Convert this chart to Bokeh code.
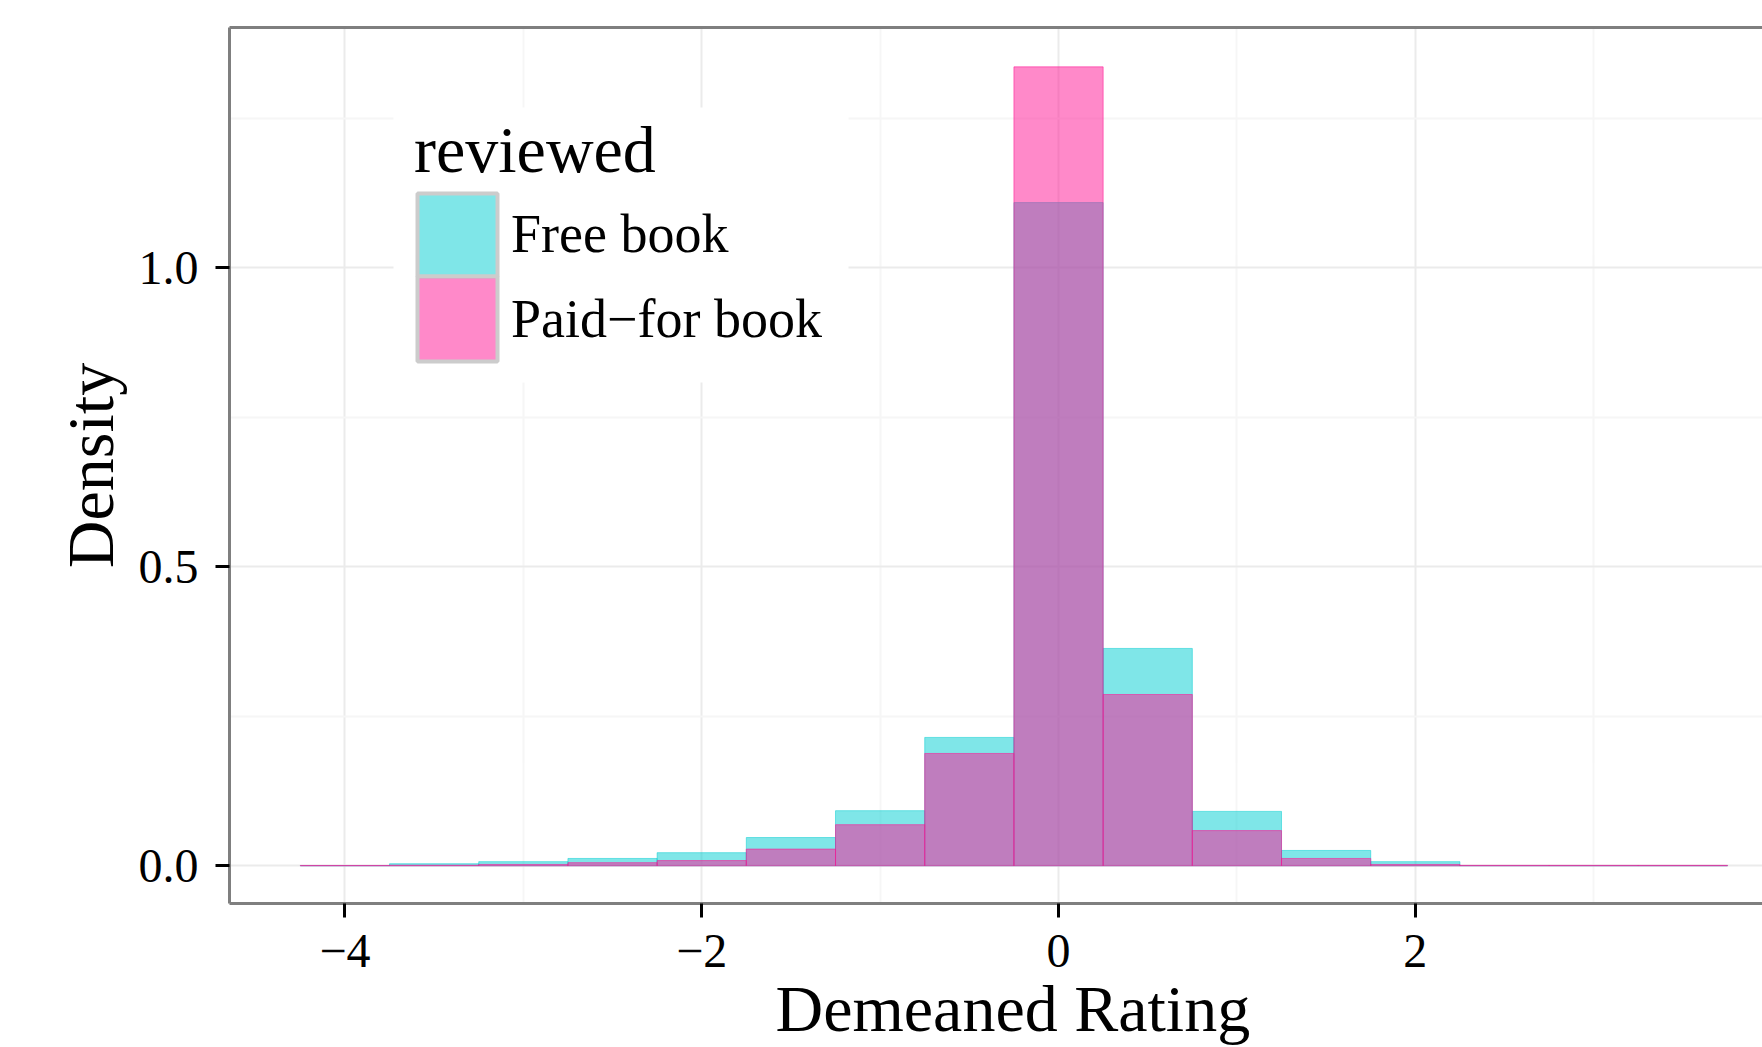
from bokeh.plotting import figure
from bokeh.models import (FixedTicker, LinearAxis, Legend, LegendItem, Title,
                          Range1d, CustomJSTickFormatter, BoxAnnotation)
from bokeh.embed import file_html
from bokeh.resources import INLINE

# ---- data ----
bin_centers = [-4.0, -3.5, -3.0, -2.5, -2.0, -1.5, -1.0, -0.5,
               0.0, 0.5, 1.0, 1.5, 2.0, 2.5, 3.0, 3.5]
free_density = [0.0004, 0.0035, 0.007, 0.0123, 0.022, 0.0473, 0.0922, 0.2147,
                1.109, 0.3635, 0.091, 0.0257, 0.007, 0.0004, 0.0004, 0.0004]
paid_density = [0.0006, 0.001, 0.0023, 0.0053, 0.0088, 0.028, 0.0688, 0.1879,
                1.336, 0.2865, 0.0589, 0.0123, 0.0023, 0.0008, 0.0008, 0.0008]
series_labels = ["Free book", "Paid\u2212for book"]
legend_title = "reviewed"
x_title = "Demeaned Rating"
y_title = "Density"
x_ticks = [-4, -2, 0, 2, 4]
x_minor = [-3, -1, 1, 3]
y_ticks = [0.0, 0.5, 1.0]
y_minor = [0.25, 0.75, 1.25]

FREE = "#00CED1"
PAID = "#FF1493"
FONT = "Liberation Serif"
BIN_W = 0.5

# ---- layout (pixels) ----
W, H = 1762, 1047
F_LEFT, F_TOP, F_BOTTOM_BORDER = 229, 27, 144
F_W = W - F_LEFT
F_H = H - F_TOP - F_BOTTOM_BORDER
X_START, X_END = -4.647, 3.946
Y_START, Y_END = -0.063, 1.4018


def px_x(px):
    return X_START + (px - F_LEFT) * (X_END - X_START) / F_W


def px_y(py):
    return Y_END - (py - F_TOP) * (Y_END - Y_START) / F_H


p = figure(width=W, height=H, output_backend="svg", toolbar_location=None,
           x_range=Range1d(X_START, X_END), y_range=Range1d(Y_START, Y_END),
           min_border_left=F_LEFT, min_border_right=0, min_border_top=F_TOP,
           min_border_bottom=F_BOTTOM_BORDER, background_fill_color="white",
           border_fill_color="white", outline_line_color=None)

p.vbar(x=bin_centers, top=free_density, width=BIN_W, bottom=0,
       fill_color=FREE, fill_alpha=0.5, line_color=FREE, line_alpha=0.5, line_width=1)
p.vbar(x=bin_centers, top=paid_density, width=BIN_W, bottom=0,
       fill_color=PAID, fill_alpha=0.5, line_color=PAID, line_alpha=0.55, line_width=1)

# legend-only (invisible) renderers; the keys themselves are drawn as boxes below
k1 = p.vbar(x=bin_centers[8:9], top=[0.0], bottom=[0.0], width=0,
            fill_alpha=0, line_alpha=0)
k2 = p.vbar(x=bin_centers[8:9], top=[0.0], bottom=[0.0], width=0,
            fill_alpha=0, line_alpha=0)

# axes
xax = p.xaxis[0]
xax.ticker = FixedTicker(ticks=x_ticks, minor_ticks=x_minor)
xax.formatter = CustomJSTickFormatter(code="""
    return tick < 0 ? "\\u2212" + Math.abs(tick) : String(tick);
""")
yax = p.yaxis[0]
yax.ticker = FixedTicker(ticks=y_ticks, minor_ticks=y_minor)
yax.formatter = CustomJSTickFormatter(code="return tick.toFixed(1);")
yax.axis_label = y_title

for ax in (xax, yax):
    ax.axis_line_color = "#7F7F7F"
    ax.axis_line_width = 3
    ax.major_tick_line_color = "black"
    ax.major_tick_line_width = 3
    ax.major_tick_out = 14
    ax.major_tick_in = 0
    ax.minor_tick_line_color = None
    ax.major_label_text_font = FONT
    ax.major_label_text_font_size = "48px"
    ax.major_label_text_color = "black"
    ax.axis_label_text_font = FONT
    ax.axis_label_text_font_size = "66px"
    ax.axis_label_text_font_style = "normal"
    ax.axis_label_text_color = "black"
xax.major_label_standoff = 17
yax.major_label_standoff = 17
yax.axis_label_standoff = 9

top_ax = LinearAxis(ticker=FixedTicker(ticks=[]), axis_line_color="#7F7F7F",
                    axis_line_width=3, major_tick_line_color=None,
                    minor_tick_line_color=None, major_label_text_font_size="0px")
p.add_layout(top_ax, "above")

# x-axis title, placed as in the (cropped) reference
p.add_layout(Title(text=x_title, align="left", offset=546, standoff=1,
                   text_font=FONT, text_font_size="66px",
                   text_font_style="normal", text_color="black"), "below")

# grids
for g in (p.xgrid[0], p.ygrid[0]):
    g.grid_line_color = "#EBEBEB"
    g.grid_line_width = 2
    g.minor_grid_line_color = "#F6F6F6"
    g.minor_grid_line_width = 2

# white legend background box
p.add_layout(BoxAnnotation(left=px_x(393), right=px_x(848), top=px_y(107),
                           bottom=px_y(382), fill_color="white", fill_alpha=1.0,
                           line_color=None))
# legend keys (grey-bordered, adjacent)
for (t, b), col in (((193, 276), FREE), ((276, 361), PAID)):
    p.add_layout(BoxAnnotation(left=px_x(417), right=px_x(497), top=px_y(t),
                               bottom=px_y(b), fill_color=col, fill_alpha=0.5,
                               line_color="#CCCCCC", line_alpha=1.0, line_width=4))

legend = Legend(items=[LegendItem(label=series_labels[0], renderers=[k1]),
                       LegendItem(label=series_labels[1], renderers=[k2])],
                location=(185, 542), title=legend_title,
                title_text_font=FONT, title_text_font_size="66px",
                title_text_font_style="normal", title_text_color="black",
                title_standoff=3,
                label_text_font=FONT, label_text_font_size="54px",
                label_text_color="black", label_standoff=12,
                glyph_width=85, glyph_height=85, label_height=85,
                spacing=0, padding=0, margin=0,
                border_line_color=None, background_fill_color="white",
                background_fill_alpha=0.0)
p.add_layout(legend)

open("out.html", "w").write(file_html(p, INLINE))
